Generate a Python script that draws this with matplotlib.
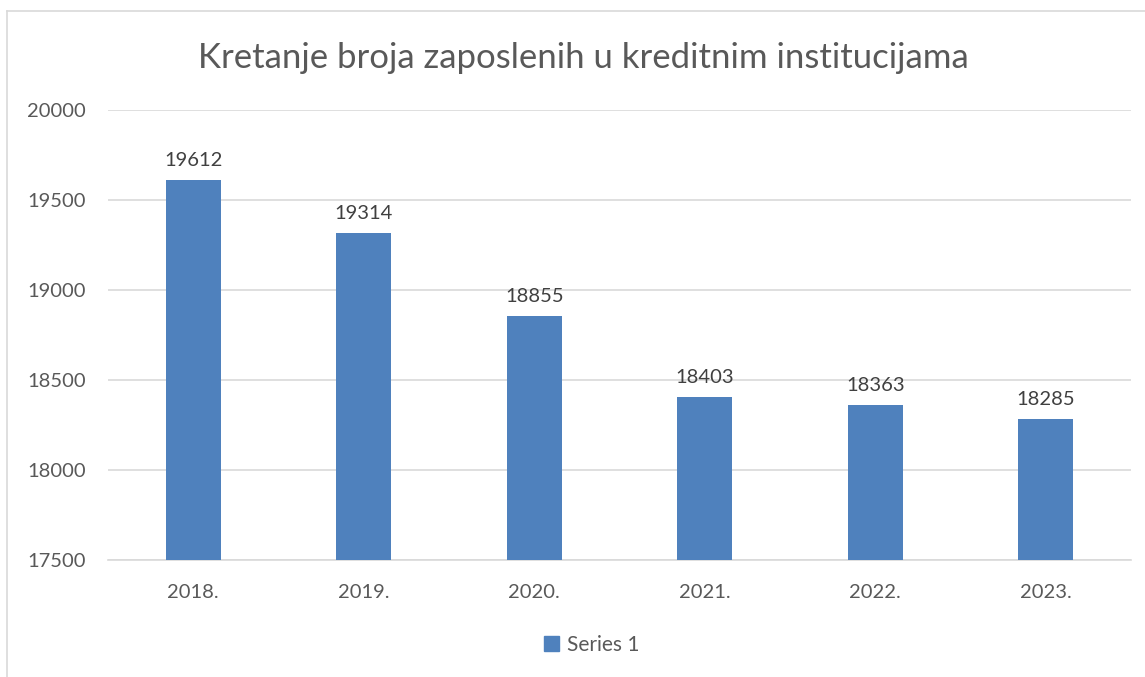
import matplotlib
matplotlib.use("Agg")
import matplotlib.pyplot as plt
from matplotlib.lines import Line2D
from matplotlib.patches import Patch

categories = ["2018.", "2019.", "2020.", "2021.", "2022.", "2023."]
values = [19612, 19314, 18855, 18403, 18363, 18285]
yticks = [17500, 18000, 18500, 19000, 19500, 20000]
title = "Kretanje broja zaposlenih u kreditnim institucijama"
series_name = "Series 1"

plt.rcParams['font.family'] = ['Lato', 'DejaVu Sans']
bar_color = "#4f81bd"
text_color = "#595959"

fig = plt.figure(figsize=(11.45, 6.77), dpi=100)
ax = fig.add_axes([108/1145, 1 - 560/677, (1131-108)/1145, (560-110)/677])

x = list(range(len(categories)))
bars = ax.bar(x, values, width=0.32, color=bar_color, zorder=3)
ax.set_xlim(-0.5, len(categories) - 0.5)
ax.set_ylim(yticks[0], yticks[-1])
ax.set_yticks(yticks)
ax.set_yticklabels([str(t) for t in yticks], fontsize=14.5, color=text_color)
ax.set_xticks(x)
ax.set_xticklabels(categories, fontsize=14.5, color=text_color)
ax.tick_params(axis='both', length=0)
ax.tick_params(axis='y', pad=16)
ax.tick_params(axis='x', pad=17)
ax.grid(axis='y', color="#d9d9d9", linewidth=1.2, zorder=0)
for s in ["top", "right", "left"]:
    ax.spines[s].set_visible(False)
ax.spines["bottom"].set_color("#d9d9d9")
ax.spines["bottom"].set_linewidth(1.2)

for xi, v in zip(x, values):
    ax.annotate(str(v), (xi, v), xytext=(0, 8), textcoords="offset points",
                ha="center", va="bottom", fontsize=14.5, color="#404040")

fig.text(583/1145, 1 - 58/677, title, ha="center", va="center", fontsize=25, color=text_color)

leg = fig.legend(handles=[Patch(color=bar_color, label=series_name)], loc="center",
                 bbox_to_anchor=(592/1145, 1 - 645/677), frameon=False, fontsize=15,
                 handlelength=0.7, handleheight=0.7, handletextpad=0.4)
for t in leg.get_texts():
    t.set_color(text_color)

# chart border (cropped at right and bottom)
fig.add_artist(Line2D([7/1145, 7/1145], [0, 1 - 11/677], color="#d9d9d9", linewidth=1.2, transform=fig.transFigure))
fig.add_artist(Line2D([7/1145, 1], [1 - 11/677, 1 - 11/677], color="#d9d9d9", linewidth=1.2, transform=fig.transFigure))

fig.savefig("out.png", dpi=100)
